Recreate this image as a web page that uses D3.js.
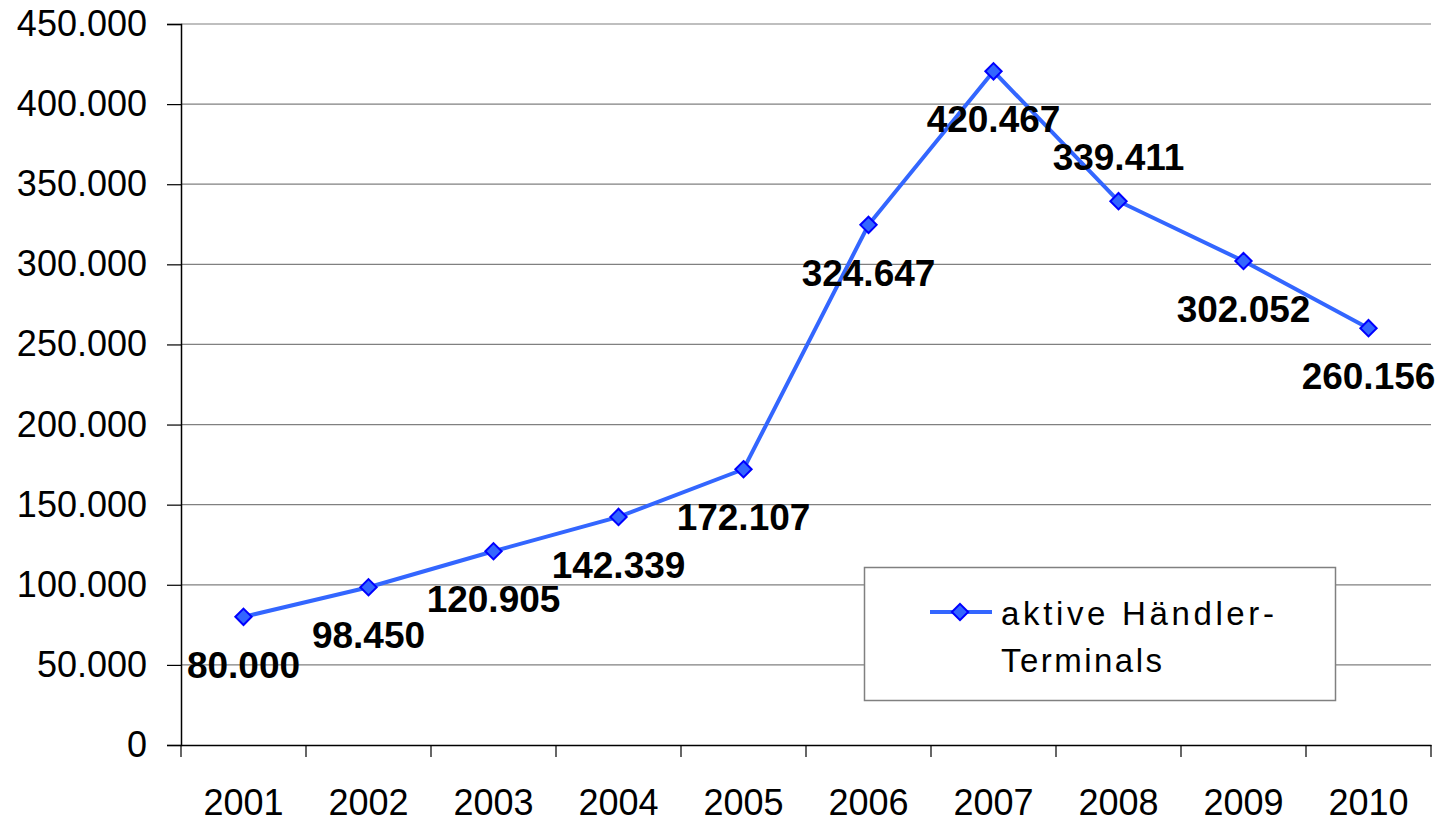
<!DOCTYPE html>
<html>
<head>
<meta charset="utf-8">
<script src="https://cdn.jsdelivr.net/npm/d3@7/dist/d3.min.js"></script>
<style>
  body { margin: 0; background: #fff; }
  text { font-family: "Liberation Sans", Arial, sans-serif; }
</style>
</head>
<body>
<div id="chart"></div>
<script>
const years = ['2001', '2002', '2003', '2004', '2005', '2006', '2007', '2008', '2009', '2010']
const terminals = [80000, 98450, 120905, 142339, 172107, 324647, 420467, 339411, 302052, 260156]
const yTicks = [0, 50000, 100000, 150000, 200000, 250000, 300000, 350000, 400000, 450000]
const seriesName = ['aktive Händler-', 'Terminals']

const w = 1439, h = 822
const margin = { left: 181, top: 24, right: 8, bottom: 77 }
const fmt = d3.formatLocale({ decimal: ',', thousands: '.', grouping: [3], currency: ['', ''] }).format(',d')

const svg = d3.select('#chart').append('svg')
  .attr('width', w)
  .attr('height', h)

const x = d3.scaleBand()
  .domain(years)
  .range([margin.left, w - margin.right])
const y = d3.scaleLinear()
  .domain([0, 450000])
  .range([h - margin.bottom, margin.top])

// grid
svg.append('g')
  .selectAll('line')
  .data(yTicks.filter(d => d > 0))
  .enter()
  .append('line')
  .attr('x1', margin.left)
  .attr('x2', w - margin.right)
  .attr('y1', d => y(d))
  .attr('y2', d => y(d))
  .attr('stroke', '#808080')
  .attr('stroke-width', 1.2)

// y axis
const yAxis = svg.append('g')
  .attr('transform', `translate(${margin.left},0)`)
  .call(d3.axisLeft(y).tickValues(yTicks).tickSize(14).tickPadding(20).tickFormat(fmt))
yAxis.select('.domain').attr('stroke', '#000').attr('stroke-width', 1.5)
yAxis.selectAll('.tick line').attr('stroke', '#000').attr('stroke-width', 1.2)
yAxis.selectAll('text').attr('font-size', '36px').attr('fill', '#000')
  .attr('font-family', '"Liberation Sans", Arial, sans-serif')

// x axis
const xAxis = svg.append('g')
  .attr('transform', `translate(0,${h - margin.bottom})`)
  .call(d3.axisBottom(x).tickSize(0).tickPadding(44))
xAxis.select('.domain').attr('stroke', '#000').attr('stroke-width', 1.5)
xAxis.selectAll('text').attr('font-size', '36px').attr('fill', '#000')
  .attr('font-family', '"Liberation Sans", Arial, sans-serif')
svg.append('g')
  .selectAll('line')
  .data(years.concat(['end']))
  .enter()
  .append('line')
  .attr('x1', (d, i) => margin.left + i * x.step())
  .attr('x2', (d, i) => margin.left + i * x.step())
  .attr('y1', h - margin.bottom)
  .attr('y2', h - margin.bottom + 12)
  .attr('stroke', '#000')
  .attr('stroke-width', 1.2)

const cx = d => x(d) + x.bandwidth() / 2
const data = years.map((yr, i) => ({ year: yr, value: terminals[i] }))

const line = d3.line()
  .x(d => cx(d.year))
  .y(d => y(d.value))

svg.append('path')
  .datum(data)
  .attr('d', line)
  .attr('fill', 'none')
  .attr('stroke', '#3366ff')
  .attr('stroke-width', 4)

const diamond = d3.symbol().type(d3.symbolDiamond2).size(170)
svg.append('g')
  .selectAll('path')
  .data(data)
  .enter()
  .append('path')
  .attr('d', diamond)
  .attr('transform', d => `translate(${cx(d.year)},${y(d.value)})`)
  .attr('fill', '#3366ff')
  .attr('stroke', '#0000ff')
  .attr('stroke-width', 2)

// 2008 label sits above its point, the rest below
svg.append('g')
  .selectAll('text')
  .data(data)
  .enter()
  .append('text')
  .attr('x', d => cx(d.year))
  .attr('y', d => y(d.value) + (d.year === '2008' ? -31 : 61))
  .attr('text-anchor', 'middle')
  .attr('font-size', '37px')
  .attr('font-weight', 'bold')
  .attr('fill', '#000')
  .text(d => fmt(d.value))

// legend
const lg = svg.append('g')
lg.append('rect')
  .attr('x', 864.5).attr('y', 567.5)
  .attr('width', 471).attr('height', 133)
  .attr('fill', '#fff')
  .attr('stroke', '#808080')
  .attr('stroke-width', 1.5)
lg.append('line')
  .attr('x1', 930).attr('x2', 992)
  .attr('y1', 612).attr('y2', 612)
  .attr('stroke', '#3366ff')
  .attr('stroke-width', 4)
lg.append('path')
  .attr('d', diamond)
  .attr('transform', 'translate(960,612)')
  .attr('fill', '#3366ff')
  .attr('stroke', '#0000ff')
  .attr('stroke-width', 2)
const legendWidths = [273, 161]
lg.selectAll('text.leg')
  .data(seriesName)
  .enter()
  .append('text')
  .attr('class', 'leg')
  .attr('x', 1001)
  .attr('y', (d, i) => 625 + i * 47)
  .attr('font-size', '33px')
  .attr('fill', '#000')
  .attr('textLength', (d, i) => legendWidths[i])
  .attr('lengthAdjust', 'spacing')
  .text(d => d)
</script>
</body>
</html>
